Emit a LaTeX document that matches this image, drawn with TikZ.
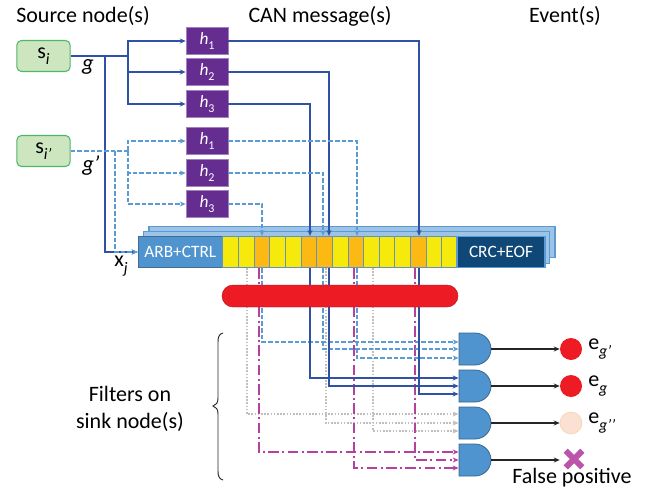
\documentclass[tikz,border=0pt]{standalone}
\usepackage{fontspec}
\setmainfont{Carlito}
\usepackage{tikz}
\usetikzlibrary{arrows.meta, calc, shapes.misc}
\definecolor{mainBlue}{HTML}{2F52A5}
\definecolor{dashBlue}{HTML}{5B9BD5}
\definecolor{dotGray}{HTML}{BFBFBF}
\definecolor{mainPink}{HTML}{B5419F}
\definecolor{hashPurple}{HTML}{662D91}
\definecolor{gateBlue}{HTML}{4F94CE}
\definecolor{frameBlue}{HTML}{9DC3E6}
\definecolor{crcBlue}{HTML}{0F4777}
\definecolor{cellYellow}{HTML}{F5EA0C}
\definecolor{cellOrange}{HTML}{FDB913}
\definecolor{mainRed}{HTML}{ED1C24}
\definecolor{srcFill}{HTML}{CDE6BF}
\definecolor{srcLine}{HTML}{4CB76A}
\definecolor{paleFill}{HTML}{FBE1D2}
\definecolor{paleLine}{HTML}{F8CFB4}
\newcommand{\lowtxt}[2][12]{\raisebox{-0.6ex}{\fontsize{#1}{#1}\selectfont #2}}
\tikzset{
    source/.style={draw=srcLine, fill=srcFill, line width=0.8pt, rounded corners=3.5pt, minimum width=40pt, minimum height=23.25pt, inner sep=0pt, font=\fontsize{16.5}{18}\selectfont},
    hashbox/.style={fill=hashPurple, draw=hashPurple!60, text=white, minimum width=31.5pt, minimum height=20.5pt, inner sep=0pt, font=\fontsize{13}{14}\selectfont},
    frame/.style={draw=dashBlue, fill=frameBlue, line width=0.8pt, minimum height=23.5pt, inner sep=0pt},
    cell/.style={draw=dashBlue!70!gray, line width=0.6pt, minimum width=11.74pt, minimum height=23.5pt, inner sep=0pt},
    andgate/.style={rounded rectangle, rounded rectangle west arc=none, draw=gateBlue!70!black, fill=gateBlue, line width=0.6pt, minimum width=22.5pt, minimum height=24pt, inner sep=0pt},
    sink/.style={circle, minimum size=16.5pt, inner sep=0pt},
    label/.style={font=\fontsize{16.5}{18}\selectfont, inner sep=0pt},
    wireg/.style={mainBlue, line width=1.2pt},
    wirep/.style={dashBlue, line width=1.2pt, dash pattern=on 3.5pt off 1.5pt},
    wiren/.style={dotGray, line width=1.2pt, dash pattern=on 1.2pt off 1.2pt},
    wirex/.style={mainPink, line width=1.2pt, dash pattern=on 8pt off 2.5pt on 1.5pt off 2.5pt},
    output/.style={->, black!85, line width=1pt},
}
\begin{document}
\begin{tikzpicture}[x=0.75pt, y=-0.75pt, >={Stealth[length=4.5pt,width=3.8pt]}]
    \useasboundingbox (0,0) rectangle (652,492);

    % titles
    \node[label] at (83,16) {Source node(s)};
    \node[label] at (320,16) {CAN message(s)};
    \node[label] at (565,16) {Event(s)};

    % sources
    \node[source] (si) at (43.5,56) {s\lowtxt{\textit{i}}};
    \node[source] (sp) at (43.5,151) {s\lowtxt{\textit{i’}}};
    \node[label, font=\fontsize{17}{18}\selectfont\itshape] at (88,67) {g};
    \node[label, font=\fontsize{17}{18}\selectfont\itshape] at (91,166) {g’};
    \node[label] at (121,266) {x\lowtxt{\textit{j}}};

    % identifiers
    \node[hashbox] (h1) at (207,41) {\textit{h}\lowtxt[9]{1}};
    \node[hashbox] (h2) at (207,72) {\textit{h}\lowtxt[9]{2}};
    \node[hashbox] (h3) at (207,104) {\textit{h}\lowtxt[9]{3}};
    \node[hashbox] (k1) at (207,141) {\textit{h}\lowtxt[9]{1}};
    \node[hashbox] (k2) at (207,173) {\textit{h}\lowtxt[9]{2}};
    \node[hashbox] (k3) at (207,204) {\textit{h}\lowtxt[9]{3}};

    % message
    \node[frame, minimum width=304.5pt] at (352,242) {};
    \node[frame, minimum width=304.5pt] at (346.5,247.5) {};
    \node[frame, draw=dashBlue!70!black, fill=gateBlue, text=white, minimum width=63pt, font=\fontsize{13}{14}\selectfont] (arb) at (180.3,252) {ARB+CTRL};
    \foreach \i/\col in {1/cellYellow, 2/cellYellow, 3/cellOrange, 4/cellYellow, 5/cellYellow, 6/cellOrange, 7/cellOrange, 8/cellYellow, 9/cellOrange, 10/cellYellow, 11/cellYellow, 12/cellYellow, 13/cellOrange, 14/cellYellow, 15/cellYellow}
        \node[cell, fill=\col] (c\i) at ({222.7+15.65*(\i-0.5)},252) {};
    \node[frame, draw=dashBlue, fill=crcBlue, text=white, minimum width=66pt, font=\fontsize{13}{14}\selectfont] (crc) at (501,252) {CRC+EOF};

    % gates and outcomes
    \node[andgate] (g1) at (475,349) {};
    \node[andgate] (g2) at (475,386) {};
    \node[andgate] (g3) at (475,423) {};
    \node[andgate] (g4) at (475,460) {};
    \node[sink, fill=mainRed] (e1) at (571,349) {};
    \node[sink, fill=mainRed] (e2) at (571,386) {};
    \node[sink, draw=paleLine, fill=paleFill] (e3) at (571,423) {};
    \node[cross out, draw=mainPink!90, line width=4.5pt, minimum size=8pt, inner sep=0pt] (e4) at (574,459) {};
    \node[label, anchor=west] at (588,349) {e\lowtxt{\textit{g’}}};
    \node[label, anchor=west] at (588,386) {e\lowtxt{\textit{g}}};
    \node[label, anchor=west] at (588,423) {e\lowtxt{\textit{g’’}}};
    \node[label] at (572,478) {False positive};
    \foreach \i in {1,2,3} \draw[output] (g\i.east) -- (e\i.west);
    \draw[output] (g4.east) -- (g4.east -| e1.west);

    % filters
    \node[label] at (130,394) {Filters on};
    \node[label] at (130,422) {sink node(s)};
    \draw[black!85, line width=0.7pt] (223,333) .. controls (219,334) and (218,337) .. (218,342) -- (218,398) .. controls (218,403) and (216,405) .. (213,406) .. controls (216,407) and (218,409) .. (218,414) -- (218,471) .. controls (218,476) and (219,479) .. (223,480);

    % sender wires
    \coordinate (busg) at (128,56);
    \coordinate (tapg) at (105,56);
    \coordinate (busp) at (128,151);
    \coordinate (tapp) at (115,151);
    \draw[wireg, line width=1.5pt] (si.east) -- (busg);
    \draw[wireg, ->] (busg) |- (h1.west);
    \draw[wireg, ->] (busg) |- (h2.west);
    \draw[wireg, ->] (busg) |- (h3.west);
    \draw[wireg, ->] (tapg) |- (arb.west);
    \draw[wirep, line width=1.5pt] (sp.east) -- (busp);
    \draw[wirep, ->] (busp) |- (k1.west);
    \draw[wirep, ->] (busp) |- (k2.west);
    \draw[wirep, ->] (busp) |- (k3.west);
    \draw[wirep, ->] (tapp) |- (arb.west);

    % identifier bits into the message
    \draw[wireg, ->] (h1.east) -| ([xshift=0.53pt]c13.north);
    \draw[wireg, ->] (h2.east) -| ([xshift=3.43pt]c7.north);
    \draw[wireg, ->] (h3.east) -| ([xshift=0.92pt]c6.north);
    \draw[wirep, ->] (k1.east) -| ([xshift=0.98pt]c9.north);
    \draw[wirep, ->] (k2.east) -| ([xshift=-1.07pt]c7.north);
    \draw[wirep, ->] (k3.east) -| ([xshift=0.13pt]c3.north);

    % bits into the filters
    \draw[wiren, ->] ([xshift=-11.12pt]c3.south) |- ([yshift=6.75pt]g3.west);
    \draw[wiren, ->] ([xshift=1.18pt]c7.south) |- (g3.west);
    \draw[wiren, ->] ([xshift=12.98pt]c9.south) |- ([yshift=-6pt]g3.west);
    \draw[wirex, ->] ([xshift=-2.12pt]c3.south) |- ([yshift=6pt]g4.west);
    \draw[wirex, ->] ([xshift=-2.47pt]c13.south) |- (g4.west);
    \draw[wirex, ->] ([xshift=-1.27pt]c9.south) |- ([yshift=-6pt]g4.west);
    \draw[wirep, ->] ([xshift=0.13pt]c3.south) |- ([yshift=5.25pt]g1.west);
    \draw[wirep, ->] ([xshift=-1.07pt]c7.south) |- (g1.west);
    \draw[wirep, ->] ([xshift=0.98pt]c9.south) |- ([yshift=-6.75pt]g1.west);
    \draw[wireg, ->] ([xshift=0.92pt]c6.south) |- ([yshift=6pt]g2.west);
    \draw[wireg, ->] ([xshift=3.43pt]c7.south) |- (g2.west);
    \draw[wireg, ->] ([xshift=0.53pt]c13.south) |- ([yshift=-6pt]g2.west);

    \node[fill=mainRed, draw=mainRed!70!black, line width=0.3pt, rounded rectangle, minimum width=177pt, minimum height=16.5pt, inner sep=0pt] (filter) at (340,296) {};
\end{tikzpicture}
\end{document}
